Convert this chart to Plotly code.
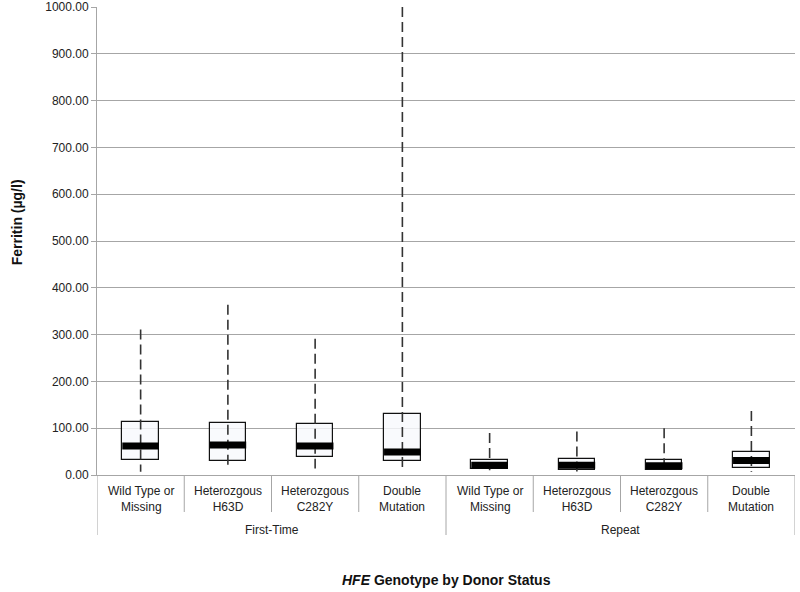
import plotly.graph_objects as go

# ---- data ----
categories = ["Wild Type or<br>Missing", "Heterozgous<br>H63D", "Heterozgous<br>C282Y", "Double<br>Mutation",
              "Wild Type or<br>Missing", "Heterozgous<br>H63D", "Heterozgous<br>C282Y", "Double<br>Mutation"]
groups = ["First-Time", "Repeat"]
group_sizes = [4, 4]
lower_whisker = [7, 12, 14, 9, 10, 6, 5, 7]
q1 = [32, 30, 38, 30, 12, 10, 10, 16]
median = [62, 64, 62, 49, 21, 21, 20, 31]
q3 = [113, 112, 108, 130, 33, 34, 33, 50]
upper_whisker = [311, 364, 291, 1000, 90, 93, 100, 137]
y_ticks = [0, 100, 200, 300, 400, 500, 600, 700, 800, 900, 1000]

FONT = "Liberation Sans, Arial, sans-serif"
GRID = "#a6a6a6"
BOX_W = 0.42

pos = list(range(len(categories)))
fig = go.Figure()

# whiskers (dashed, drawn from top down so the dash pattern starts at the upper end)
wx, wy = [], []
for i in pos:
    wx += [i, i, None]
    wy += [upper_whisker[i], lower_whisker[i], None]
fig.add_trace(go.Scatter(x=wx, y=wy, mode="lines",
                         line=dict(color="#333333", width=1.6, dash="10px,5px"),
                         hoverinfo="skip", showlegend=False, cliponaxis=False))

# boxes
fig.add_trace(go.Bar(x=pos, y=[q3[i] - q1[i] for i in pos], base=q1, width=BOX_W,
                     marker=dict(color="rgba(248,249,253,0.82)", line=dict(color="#111111", width=1.2)),
                     showlegend=False, hoverinfo="skip"))

# medians (thick black bars)
mx, my = [], []
for i in pos:
    mx += [i - BOX_W / 2, i + BOX_W / 2, None]
    my += [median[i], median[i], None]
fig.add_trace(go.Scatter(x=mx, y=my, mode="lines", line=dict(color="#000000", width=7),
                         hoverinfo="skip", showlegend=False))

# bottom plot geometry (pixels -> paper)
plot_h = 468.0
def py(px_below):
    return -px_below / plot_h

annotations = []
shapes = []
for i in pos:
    annotations.append(dict(x=i, y=py(24), xref="x", yref="paper", text=categories[i],
                            showarrow=False, yanchor="middle",
                            font=dict(family=FONT, size=12, color="#222222")))
start = 0
group_edges = [-0.5]
for g, n in zip(groups, group_sizes):
    center = start + (n - 1) / 2
    annotations.append(dict(x=center, y=py(55), xref="x", yref="paper", text=g,
                            showarrow=False, yanchor="middle",
                            font=dict(family=FONT, size=12, color="#222222")))
    for k in range(1, n):
        xd = start + k - 0.5
        shapes.append(dict(type="line", xref="x", yref="paper", x0=xd, x1=xd, y0=0, y1=py(37),
                           line=dict(color=GRID, width=1)))
    start += n
    group_edges.append(start - 0.5)
for xd in group_edges:
    shapes.append(dict(type="line", xref="x", yref="paper", x0=xd, x1=xd, y0=0, y1=py(60),
                       line=dict(color=GRID, width=1)))

annotations.append(dict(x=0.5, y=py(105), xref="paper", yref="paper",
                        text="<b><i>HFE</i> Genotype by Donor Status</b>", showarrow=False,
                        yanchor="middle", font=dict(family=FONT, size=14, color="#111111")))
annotations.append(dict(x=-80 / 698, y=0.54, xref="paper", yref="paper",
                        text="<b>Ferritin (µg/l)</b>", showarrow=False, textangle=-90,
                        xanchor="center", yanchor="middle",
                        font=dict(family=FONT, size=14, color="#111111")))

fig.update_layout(
    width=800, height=592,
    margin=dict(l=97, r=5, t=7, b=117, autoexpand=False),
    plot_bgcolor="white", paper_bgcolor="white",
    showlegend=False, bargap=0,
    annotations=annotations, shapes=shapes,
    xaxis=dict(range=[-0.5, len(categories) - 0.5], showticklabels=False, showgrid=False,
               zeroline=False, showline=True, linecolor=GRID, linewidth=1, ticks="",
               automargin=False),
    yaxis=dict(range=[0, 1000], tickvals=y_ticks, tickformat=".2f", showgrid=True,
               gridcolor=GRID, gridwidth=1, zeroline=False, showline=True, linecolor=GRID,
               linewidth=1, ticks="outside", ticklen=5, tickcolor=GRID, automargin=False,
               tickfont=dict(family=FONT, size=12, color="#222222")),
)

fig.write_html("out.html", config={"displayModeBar": False},
               post_script="document.body.style.margin='0';document.body.style.overflow='hidden';")
